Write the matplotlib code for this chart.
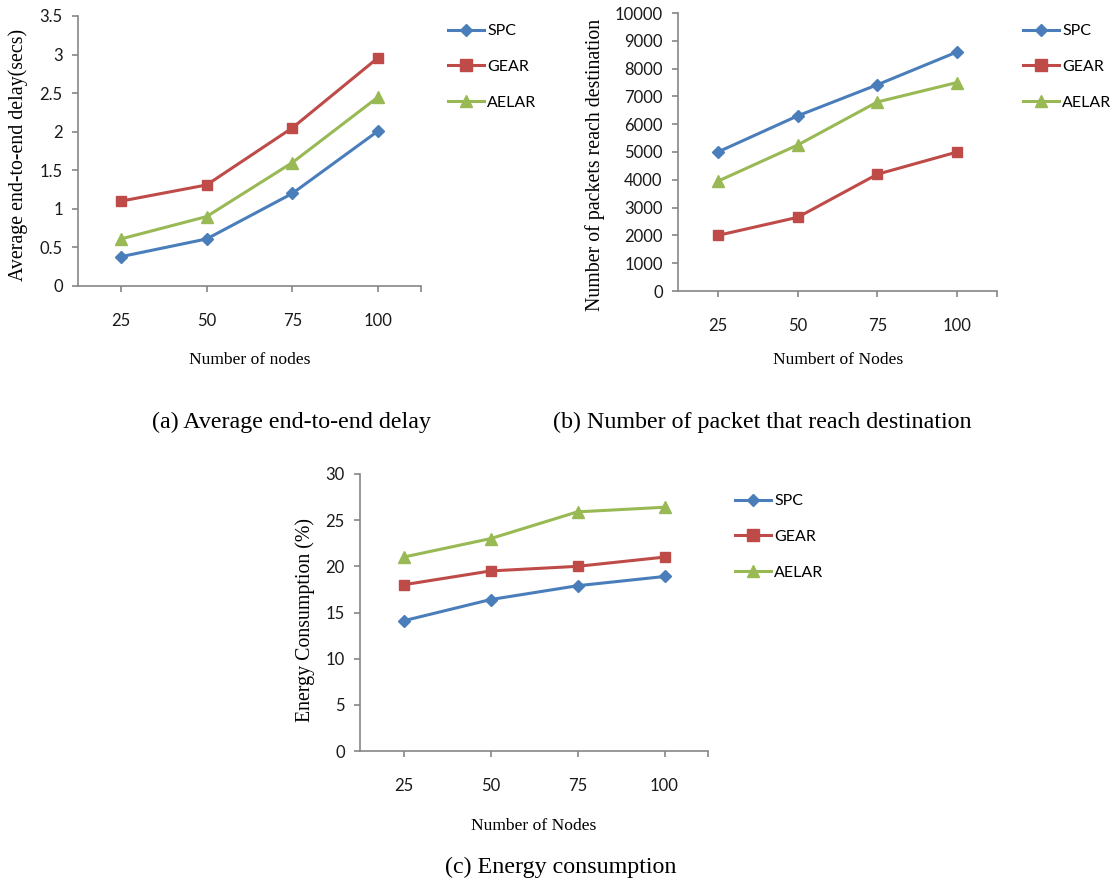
import matplotlib
matplotlib.use("Agg")
import matplotlib.pyplot as plt
from matplotlib.lines import Line2D

# Data
nodes = ["25", "50", "75", "100"]
series_names = ["SPC", "GEAR", "AELAR"]

delay_spc = [0.38, 0.61, 1.2, 2.01]
delay_gear = [1.1, 1.31, 2.05, 2.96]
delay_aelar = [0.61, 0.9, 1.6, 2.45]

packets_spc = [5000, 6300, 7420, 8600]
packets_gear = [2000, 2650, 4200, 5000]
packets_aelar = [3950, 5250, 6800, 7500]

energy_spc = [14.1, 16.4, 17.9, 18.9]
energy_gear = [18.0, 19.5, 20.0, 21.0]
energy_aelar = [21.0, 23.0, 25.9, 26.4]

COLORS = ["#4A7EBB", "#BE4B48", "#98B954"]
MARKERS = ["D", "s", "^"]
MSIZES = [6, 7.5, 8]
AXIS_GREY = "#868686"
TICK_FONT = ["Lato", "DejaVu Sans"]
SERIF_FONT = ["Liberation Serif", "DejaVu Serif"]

W, H = 1113, 882


def px_axes(fig, left, top, right, bottom):
    """Add axes using pixel box coordinates of the reference image."""
    return fig.add_axes([left / W, 1 - bottom / H, (right - left) / W, (bottom - top) / H])


def draw_panel(fig, box, values, ymax, ystep, ylabel, xlabel, legend_xy, ylabel_xy, xlabel_xy, yfmt):
    """
    Draw one line chart in Excel 2007 style.
    Args:
        box (tuple): axes pixel box (left, top, right, bottom).
        values (list): three lists of y values.
    """
    ax = px_axes(fig, *box)
    x = range(1, len(nodes) + 1)
    for vals, c, m, ms in zip(values, COLORS, MARKERS, MSIZES):
        ax.plot(x, vals, color=c, lw=2.2, marker=m, markersize=ms,
                markeredgecolor=c, clip_on=False, zorder=3)

    ax.set_xlim(0.5, 4.5)
    ax.set_ylim(0, ymax)
    ticks = [i * ystep for i in range(int(round(ymax / ystep)) + 1)]
    ax.set_yticks(ticks)
    ax.set_yticklabels([yfmt(t) for t in ticks])
    ax.set_xticks(list(x))
    ax.set_xticklabels(nodes)
    ax.set_xticks([4.5], minor=True)

    for side in ["top", "right"]:
        ax.spines[side].set_visible(False)
    for side in ["left", "bottom"]:
        ax.spines[side].set_color(AXIS_GREY)
        ax.spines[side].set_linewidth(1.2)
    ax.tick_params(axis="both", which="both", color=AXIS_GREY, width=1.2, length=4.5,
                   labelsize=12, labelcolor="#1a1a1a")
    ax.tick_params(axis="x", which="major", pad=15)
    ax.tick_params(axis="y", pad=6.5)
    for lab in ax.get_xticklabels() + ax.get_yticklabels():
        lab.set_family(TICK_FONT)

    # axis titles
    fig.text(ylabel_xy[0] / W, 1 - ylabel_xy[1] / H, ylabel, rotation=90,
             ha="center", va="center", fontsize=14.3, family=SERIF_FONT)
    fig.text(xlabel_xy[0] / W, 1 - xlabel_xy[1] / H, xlabel, ha="center", va="center",
             fontsize=12.6, family=SERIF_FONT)

    handles = [Line2D([], [], color=c, lw=2.2, marker=m, markersize=ms)
               for c, m, ms in zip(COLORS, MARKERS, [6, 8, 8])]
    fig.legend(handles, series_names, loc="upper left",
               bbox_to_anchor=(legend_xy[0] / W, 1 - legend_xy[1] / H),
               frameon=False, handlelength=2.25, handletextpad=0.2,
               labelspacing=1.35, borderpad=0, borderaxespad=0,
               prop={"family": TICK_FONT, "size": 11.5})
    return ax


fig = plt.figure(figsize=(W / 100, H / 100), dpi=100)

draw_panel(fig, (78, 16, 421, 286), [delay_spc, delay_gear, delay_aelar], 3.5, 0.5,
           "Average end-to-end delay(secs)", "Number of nodes",
           (448, 24), (18, 155), (250, 360), lambda v: f"{v:g}")
draw_panel(fig, (678, 13, 997, 291), [packets_spc, packets_gear, packets_aelar], 10000, 1000,
           "Number of packets reach destination", "Numbert of Nodes",
           (1023, 24), (595, 165), (838, 360), lambda v: f"{int(v)}")
draw_panel(fig, (360, 474, 708, 751), [energy_spc, energy_gear, energy_aelar], 30, 5,
           "Energy Consumption (%)", "Number of Nodes",
           (735, 494), (305, 620), (534, 826), lambda v: f"{int(v)}")

# sub-figure captions
fig.text(292 / W, 1 - 422 / H, "(a) Average end-to-end delay", ha="center", va="center",
         fontsize=17.3, family=SERIF_FONT)
fig.text(762 / W, 1 - 422 / H, "(b) Number of packet that reach destination", ha="center",
         va="center", fontsize=17.3, family=SERIF_FONT)
fig.text(561 / W, 1 - 867 / H, "(c) Energy consumption", ha="center", va="center",
         fontsize=17.3, family=SERIF_FONT)

fig.savefig("out.png", dpi=100, facecolor="white")
